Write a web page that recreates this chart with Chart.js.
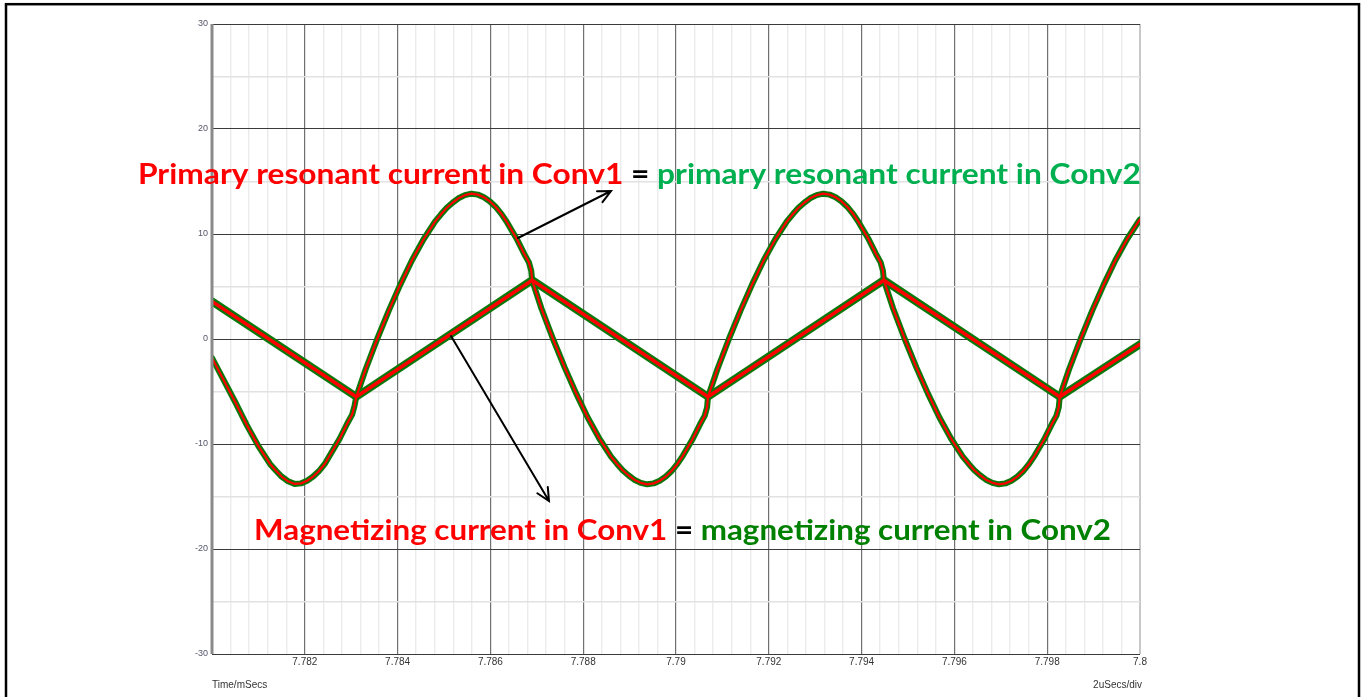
<!DOCTYPE html>
<html>
<head>
<meta charset="utf-8">
<script src="https://cdn.jsdelivr.net/npm/chart.js@4.4.1/dist/chart.umd.min.js"></script>
<style>
  html, body { margin: 0; padding: 0; background: #ffffff; }
  #wrap { width: 1362px; height: 697px; position: relative; }
</style>
</head>
<body>
<div id="wrap"><canvas id="c" width="1362" height="697"></canvas></div>
<script>
// ---- Data (time in mSecs, current in A) ----
const resonantTime = [
  7.78000, 7.78025, 7.78050, 7.78075, 7.78100, 7.78125, 7.78138, 7.78150, 7.78164, 7.78178, 7.78192, 7.78205, 7.78218, 7.78230, 7.78243, 7.78255, 7.78275, 7.78292, 7.78302, 7.78307, 7.78311,
  7.78331, 7.78356, 7.78381, 7.78406, 7.78431, 7.78456, 7.78481, 7.78494, 7.78506, 7.78519, 7.78531, 7.78545, 7.78559, 7.78573, 7.78586, 7.78599, 7.78611, 7.78624, 7.78636, 7.78656, 7.78673, 7.78683, 7.78688, 7.78690,
  7.78710, 7.78735, 7.78760, 7.78785, 7.78810, 7.78835, 7.78860, 7.78873, 7.78885, 7.78898, 7.78910, 7.78924, 7.78938, 7.78952, 7.78965, 7.78978, 7.78990, 7.79003, 7.79015, 7.79035, 7.79052, 7.79062, 7.79067, 7.79069,
  7.79089, 7.79114, 7.79139, 7.79164, 7.79189, 7.79214, 7.79239, 7.79252, 7.79264, 7.79277, 7.79289, 7.79303, 7.79317, 7.79331, 7.79344, 7.79357, 7.79369, 7.79382, 7.79394, 7.79414, 7.79431, 7.79441, 7.79446, 7.79448,
  7.79468, 7.79493, 7.79518, 7.79543, 7.79568, 7.79593, 7.79618, 7.79631, 7.79643, 7.79656, 7.79668, 7.79682, 7.79696, 7.79710, 7.79723, 7.79736, 7.79748, 7.79761, 7.79773, 7.79793, 7.79810, 7.79820, 7.79825, 7.79827,
  7.79847, 7.79872, 7.79897, 7.79922, 7.79947, 7.79972, 7.79997, 7.80000
];
const resonantCurrent = [
  -1.8, -3.9, -6.0, -8.2, -10.2, -11.9, -12.55, -13.1, -13.55, -13.8, -13.75, -13.5, -13.1, -12.6, -11.9, -11.0, -9.5, -8.0, -7.2, -6.4, -5.5,
  -2.9, 0.0, 2.7, 5.2, 7.5, 9.5, 11.2, 11.9, 12.5, 13.0, 13.4, 13.7, 13.84, 13.75, 13.5, 13.1, 12.6, 11.9, 11.1, 9.6, 8.1, 7.3, 6.5, 5.6,
  2.9, 0.0, -2.7, -5.2, -7.5, -9.5, -11.2, -11.9, -12.5, -13.0, -13.4, -13.7, -13.84, -13.75, -13.5, -13.1, -12.6, -11.9, -11.1, -9.6, -8.1, -7.3, -6.5, -5.5,
  -2.9, 0.0, 2.7, 5.2, 7.5, 9.5, 11.2, 11.9, 12.5, 13.0, 13.4, 13.7, 13.84, 13.75, 13.5, 13.1, 12.6, 11.9, 11.1, 9.6, 8.1, 7.3, 6.5, 5.6,
  2.9, 0.0, -2.7, -5.2, -7.5, -9.5, -11.2, -11.9, -12.5, -13.0, -13.4, -13.7, -13.84, -13.75, -13.5, -13.1, -12.6, -11.9, -11.1, -9.6, -8.1, -7.3, -6.5, -5.5,
  -2.9, 0.0, 2.7, 5.2, 7.5, 9.5, 11.2, 11.4
];
const magnetizingTime = [7.78000, 7.78311, 7.78690, 7.79069, 7.79448, 7.79827, 7.80000];
const magnetizingCurrent = [3.58, -5.5, 5.6, -5.5, 5.6, -5.5, -0.5];

const xTickLabels = ['', '7.782', '7.784', '7.786', '7.788', '7.79', '7.792', '7.794', '7.796', '7.798', '7.8'];
const yTickLabels = ['-30', '-20', '-10', '0', '10', '20', '30'];
const xMin = 7.78, xMax = 7.80, xMajorStep = 0.002, xMinorPerMajor = 5;
const yMin = -30, yMax = 30, yMinorStep = 5;

const line1Parts = [
  ['Primary resonant current in Conv1', '#ff0000'],
  [' = ', '#000000'],
  ['primary resonant current in Conv2', '#00b050']
];
const line2Parts = [
  ['Magnetizing current in Conv1', '#ff0000'],
  [' = ', '#000000'],
  ['magnetizing current in Conv2', '#008000']
];

const toPts = (xs, ys) => xs.map((x, i) => ({ x: x, y: ys[i] }));
const resPts = toPts(resonantTime, resonantCurrent);
const magPts = toPts(magnetizingTime, magnetizingCurrent);

const GREEN = '#0a780a';
const RED = '#ff0000';

const overlay = {
  id: 'overlay',
  beforeDraw(chart) {
    const ctx = chart.ctx;
    ctx.save();
    ctx.fillStyle = '#ffffff';
    ctx.fillRect(0, 0, chart.width, chart.height);
    ctx.restore();
  },
  afterDraw(chart) {
    const ctx = chart.ctx;
    const ca = chart.chartArea;
    ctx.save();
    // left axis bar
    ctx.fillStyle = '#8a8a8a';
    ctx.fillRect(ca.left - 1.5, ca.top, 3, ca.bottom - ca.top);

    // axis captions
    ctx.font = '10px "Liberation Sans Narrow", "Arial Narrow", sans-serif';
    ctx.fillStyle = '#333333';
    ctx.textBaseline = 'middle';
    ctx.textAlign = 'left';
    ctx.fillText('Time/mSecs', ca.left, 685);
    ctx.textAlign = 'right';
    ctx.fillText('2uSecs/div', ca.right + 2, 685);

    // annotation text lines
    function drawLine(parts, x0, x1, baseline) {
      ctx.font = 'bold 29px Lato, "Open Sans", sans-serif';
      ctx.textBaseline = 'alphabetic';
      ctx.textAlign = 'left';
      let total = 0;
      parts.forEach(p => total += ctx.measureText(p[0]).width);
      const sx = (x1 - x0) / total;
      ctx.save();
      ctx.translate(x0, baseline);
      ctx.scale(sx, 1);
      let x = 0;
      parts.forEach(p => {
        ctx.fillStyle = p[1];
        ctx.fillText(p[0], x, 0);
        x += ctx.measureText(p[0]).width;
      });
      ctx.restore();
    }
    drawLine(line1Parts, 138, 1141, 184);
    drawLine(line2Parts, 254, 1111, 540);

    // arrows
    function arrow(x0, y0, x1, y1) {
      ctx.strokeStyle = '#000000';
      ctx.lineWidth = 2;
      ctx.lineCap = 'round';
      ctx.beginPath();
      ctx.moveTo(x0, y0);
      ctx.lineTo(x1, y1);
      const a = Math.atan2(y1 - y0, x1 - x0);
      const L = 14, w = 0.45;
      ctx.moveTo(x1 - L * Math.cos(a - w), y1 - L * Math.sin(a - w));
      ctx.lineTo(x1, y1);
      ctx.lineTo(x1 - L * Math.cos(a + w), y1 - L * Math.sin(a + w));
      ctx.stroke();
    }
    arrow(518, 238, 611, 191);
    arrow(451, 336, 549, 501);

    // outer frame
    ctx.strokeStyle = '#000000';
    ctx.lineWidth = 2.5;
    ctx.strokeRect(6, 4.2, 1353, 700);
    ctx.restore();
  }
};

new Chart(document.getElementById('c'), {
  type: 'line',
  data: {
    datasets: [
      { data: magPts, borderColor: RED, borderWidth: 3.5, order: 0 },
      { data: resPts, borderColor: RED, borderWidth: 2.2, order: 0 },
      { data: magPts, borderColor: GREEN, borderWidth: 8, order: 1 },
      { data: resPts, borderColor: GREEN, borderWidth: 6, order: 1 }
    ].map(d => Object.assign({
      pointRadius: 0, pointHoverRadius: 0, fill: false,
      borderJoinStyle: 'round', borderCapStyle: 'round', tension: 0
    }, d))
  },
  plugins: [overlay],
  options: {
    responsive: false,
    animation: false,
    events: [],
    layout: { padding: { left: 0, right: 222, top: 24, bottom: 0 } },
    plugins: { legend: { display: false }, tooltip: { enabled: false } },
    scales: {
      x: {
        type: 'linear',
        min: xMin, max: xMax,
        afterBuildTicks(scale) {
          const n = (xTickLabels.length - 1) * xMinorPerMajor;
          const ticks = [];
          for (let i = 0; i <= n; i++) ticks.push({ value: xMin + i * xMajorStep / xMinorPerMajor });
          scale.ticks = ticks;
        },
        afterFit(scale) { scale.height = 43; },
        border: { display: false },
        grid: {
          drawTicks: false,
          color: (c) => {
            const n = (xTickLabels.length - 1) * xMinorPerMajor;
            if (c.index === n) return '#c8c8c8';
            return c.index % xMinorPerMajor === 0 ? '#707070' : '#ebebeb';
          },
          lineWidth: (c) => {
            const n = (xTickLabels.length - 1) * xMinorPerMajor;
            if (c.index === n) return 2;
            return c.index % xMinorPerMajor === 0 ? 1.2 : 1.4;
          }
        },
        ticks: {
          autoSkip: false, maxRotation: 0, padding: 2,
          color: '#333333',
          font: { family: '"Liberation Sans Narrow", "Arial Narrow", sans-serif', size: 10 },
          callback: (v, i) => (i % xMinorPerMajor === 0 ? xTickLabels[i / xMinorPerMajor] : '')
        }
      },
      y: {
        type: 'linear',
        min: yMin, max: yMax,
        afterBuildTicks(scale) {
          const ticks = [];
          for (let v = yMin; v <= yMax; v += yMinorStep) ticks.push({ value: v });
          scale.ticks = ticks;
        },
        afterFit(scale) { scale.width = 212; },
        border: { display: false },
        grid: {
          drawTicks: false,
          color: (c) => (c.index % 2 === 0 ? '#3a3a3a' : '#e2e2e2'),
          lineWidth: (c) => (c.index % 2 === 0 ? 1 : 1.6)
        },
        ticks: {
          autoSkip: false, padding: 4,
          color: '#55556a',
          font: { family: '"Liberation Sans Narrow", "Arial Narrow", sans-serif', size: 9 },
          callback: (v, i) => (i % 2 === 0 ? yTickLabels[i / 2] : '')
        }
      }
    }
  }
});
</script>
</body>
</html>
